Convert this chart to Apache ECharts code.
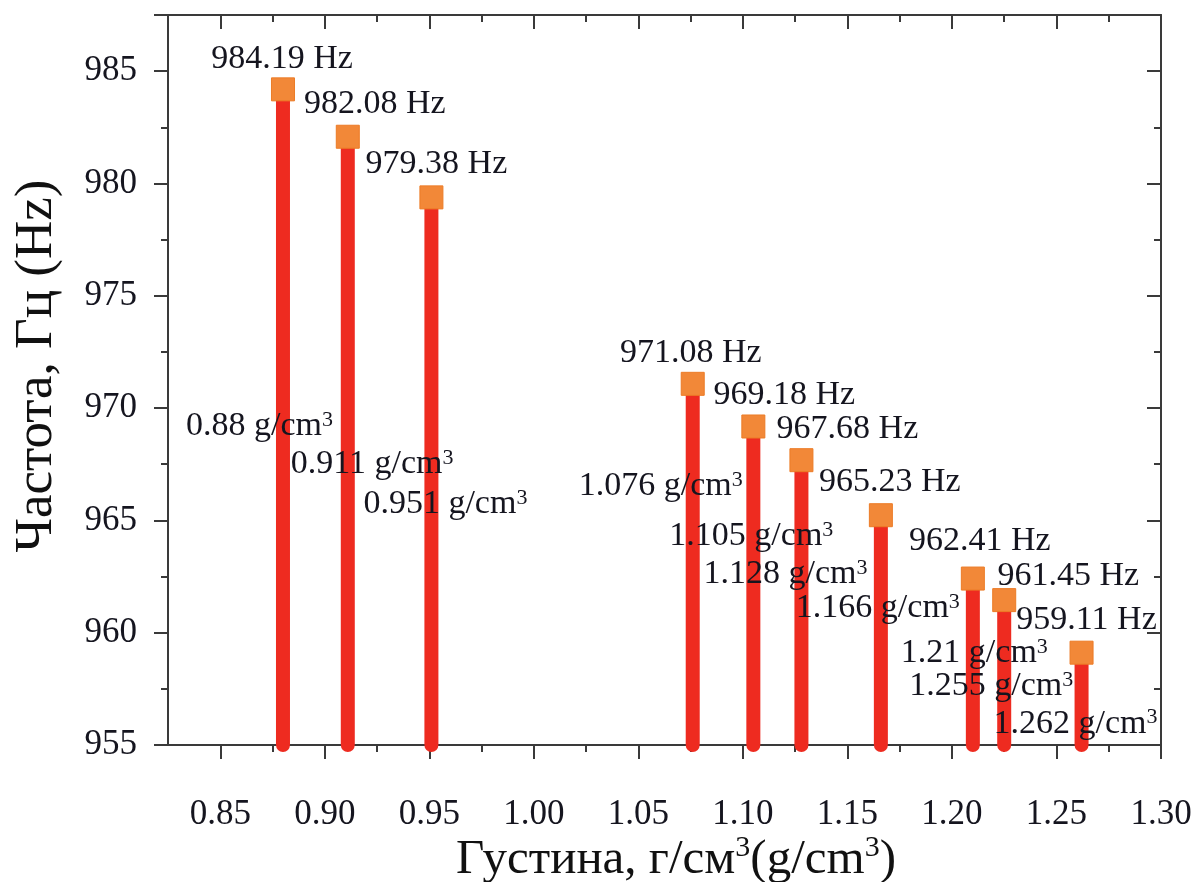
<!DOCTYPE html>
<html>
<head>
<meta charset="utf-8">
<script src="https://cdn.jsdelivr.net/npm/echarts@6/dist/echarts.min.js"></script>
<style>
html,body{margin:0;padding:0;background:#fff;}
#chart{width:1196px;height:882px;}
</style>
</head>
<body>
<div id="chart"></div>
<script>
// ---- data ----
const densities = [0.88, 0.911, 0.951, 1.076, 1.105, 1.128, 1.166, 1.21, 1.225, 1.262];
const frequencies = [984.19, 982.08, 979.38, 971.08, 969.18, 967.68, 965.23, 962.41, 961.45, 959.11];
const densityLabels = ['0.88', '0.911', '0.951', '1.076', '1.105', '1.128', '1.166', '1.21', '1.255', '1.262'];
const xTickLabels = ['0.85', '0.90', '0.95', '1.00', '1.05', '1.10', '1.15', '1.20', '1.25', '1.30'];
const xMinorTicks = [0.875, 0.925, 0.975, 1.025, 1.075, 1.125, 1.175, 1.225, 1.275];
const yTickLabels = ['955', '960', '965', '970', '975', '980', '985'];

// ---- layout (label offsets in px, relative to the marker) ----
const hzOffsets = [[-1,-30],[27,-33],[5,-33],[-2,-31],[31,-31],[46,-31],[9,-33],[7,-37],[64,-24],[5,-33]];
const densOffsets = [[-97,337],[-57,327],[-68,307],[-114,102],[-84,110],[-98,114],[-85,93],[-72,75],[-95,86],[-88,71]];

const xMajor = xTickLabels.map(Number);
const xMin = 0.825, xMax = 1.30;
const yMin = Number(yTickLabels[0]), yMax = 987.5, yStep = 5;

const FONT = 'Liberation Serif';
const TXT = '#15151f';
const AX = '#3a3a3a';

const chart = echarts.init(document.getElementById('chart'), null, {renderer: 'canvas'});

const pts = densities.map((d, i) => [d, frequencies[i]]);

function xAxisBase(extra) {
  return Object.assign({
    type: 'value', min: xMin, max: xMax, gridIndex: 0,
    splitLine: {show: false}, axisLabel: {show: false},
    axisLine: {show: false}
  }, extra);
}

const option = {
  animation: false,
  backgroundColor: '#ffffff',
  grid: {left: 168, top: 15, right: 35, bottom: 137, containLabel: false, outerBoundsMode: 'none'},
  xAxis: [
    xAxisBase({
      position: 'bottom',
      axisLine: {show: true, onZero: false, lineStyle: {color: AX, width: 2}},
      axisTick: {show: true, customValues: xMajor, length: 14, inside: false, lineStyle: {color: AX, width: 2}},
      axisLabel: {show: true, customValues: xMajor, formatter: v => v.toFixed(2), fontFamily: FONT, fontSize: 35, color: TXT, margin: 52},
      name: '{t|Густина, г/см}{s|3}{t|(g/cm}{s|3}{t|)}',
      nameLocation: 'middle', nameGap: 88, nameMoveOverlap: false,
      nameTextStyle: {
        padding: [0, 0, 0, 23],
        rich: {
          t: {fontFamily: FONT, fontSize: 49, color: '#111', lineHeight: 54},
          s: {fontFamily: FONT, fontSize: 30, color: '#111', verticalAlign: 'top', lineHeight: 54}
        }
      }
    }),
    xAxisBase({
      position: 'bottom',
      axisTick: {show: true, customValues: xMinorTicks, length: 7, inside: false, lineStyle: {color: AX, width: 2}}
    }),
    xAxisBase({
      position: 'top',
      axisLine: {show: true, onZero: false, lineStyle: {color: AX, width: 2}},
      axisTick: {show: true, customValues: xMajor, length: 14, inside: true, lineStyle: {color: AX, width: 2}}
    }),
    xAxisBase({
      position: 'top',
      axisTick: {show: true, customValues: xMinorTicks, length: 7, inside: true, lineStyle: {color: AX, width: 2}}
    })
  ],
  yAxis: [
    {
      type: 'value', min: yMin, max: yMax, interval: yStep, position: 'left',
      splitLine: {show: false},
      axisLine: {show: true, onZero: false, lineStyle: {color: AX, width: 2}},
      axisTick: {show: true, length: 14, inside: false, lineStyle: {color: AX, width: 2}},
      minorTick: {show: true, splitNumber: 2, length: 7, lineStyle: {color: AX, width: 2}},
      axisLabel: {fontFamily: FONT, fontSize: 35, color: TXT, margin: 31,
        formatter: v => yTickLabels.includes(String(v)) ? String(v) : ''},
      name: 'Частота, Гц (Hz)',
      nameLocation: 'middle', nameRotate: 90, nameGap: 104, nameMoveOverlap: false,
      nameTextStyle: {fontFamily: FONT, fontSize: 53, color: '#111', padding: [0, 0, 0, 28]}
    },
    {
      type: 'value', min: yMin, max: yMax, interval: yStep, position: 'right',
      splitLine: {show: false},
      axisLine: {show: true, onZero: false, lineStyle: {color: AX, width: 2}},
      axisTick: {show: true, length: 14, inside: true, lineStyle: {color: AX, width: 2}},
      minorTick: {show: true, splitNumber: 2, length: 7, lineStyle: {color: AX, width: 2}},
      axisLabel: {show: false}
    }
  ],
  series: [
    {
      type: 'custom',
      xAxisIndex: 0, yAxisIndex: 0,
      clip: false,
      z: 2,
      data: pts,
      renderItem: function (params, api) {
        const x = api.value(0), y = api.value(1);
        const p0 = api.coord([x, yMin]);
        const p1 = api.coord([x, y]);
        return {
          type: 'line',
          shape: {x1: p0[0], y1: p0[1], x2: p1[0], y2: p1[1]},
          style: {stroke: '#EE2B20', lineWidth: 14, lineCap: 'round'}
        };
      }
    },
    {
      type: 'scatter',
      xAxisIndex: 0, yAxisIndex: 0,
      z: 3,
      symbol: 'rect', symbolSize: 23,
      itemStyle: {color: '#F28838', borderColor: '#EC7B26', borderWidth: 1, opacity: 1},
      emphasis: {disabled: true},
      data: pts.map((p, i) => ({
        value: p,
        label: {
          show: true, position: 'inside', align: 'center', verticalAlign: 'middle',
          offset: hzOffsets[i],
          formatter: frequencies[i].toFixed(2) + ' Hz',
          fontFamily: FONT, fontSize: 34, color: TXT, opacity: 1
        }
      }))
    },
    {
      type: 'scatter',
      xAxisIndex: 0, yAxisIndex: 0,
      z: 5,
      symbol: 'rect', symbolSize: 1,
      itemStyle: {color: 'rgba(0,0,0,0)', opacity: 1},
      silent: true,
      data: pts.map((p, i) => ({
        value: p,
        label: {
          show: true, position: 'inside', align: 'left', verticalAlign: 'middle',
          offset: densOffsets[i],
          formatter: '{t|' + densityLabels[i] + ' g/cm}{s|3}',
          opacity: 1,
          rich: {
            t: {fontFamily: FONT, fontSize: 34, color: TXT, lineHeight: 34},
            s: {fontFamily: FONT, fontSize: 22, color: TXT, verticalAlign: 'top', lineHeight: 34}
          }
        }
      }))
    }
  ]
};

chart.setOption(option);
</script>
</body>
</html>
